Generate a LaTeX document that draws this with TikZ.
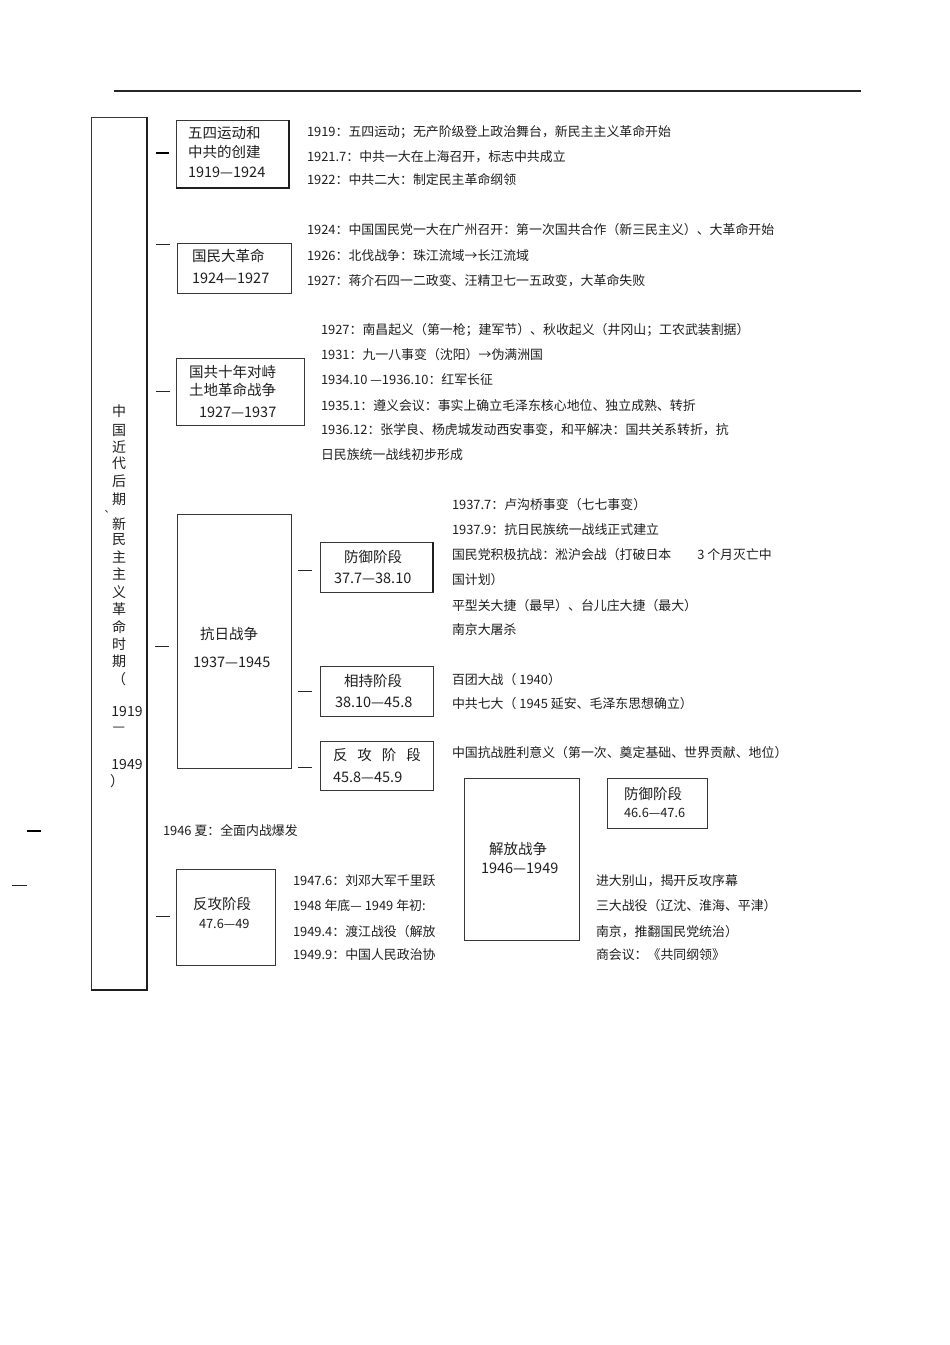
\documentclass[tikz,border=0pt]{standalone}
\usepackage{fontspec}
\setmainfont{Noto Sans CJK SC}
\newfontfamily\tcfont{Noto Sans CJK TC}
\begin{document}
\begin{tikzpicture}[x=1pt,y=-1pt,
  every node/.style={inner sep=0pt,outer sep=0pt,text=black!88},
  ln/.style={anchor=west,font=\fontsize{12.9}{14}\selectfont},
  bt/.style={anchor=west,font=\fontsize{14.5}{16}\selectfont},
  bts/.style={anchor=west,font=\fontsize{12.8}{14}\selectfont},
  vt/.style={font=\fontsize{14}{16}\selectfont},
  frame/.style={draw=black!78,line width=0.9pt,anchor=north west},
  shade/.style={draw=black!88,line width=1.8pt},
  tick/.style={draw=black!85,line width=0.9pt},
  tickb/.style={draw=black,line width=1.9pt}]
\useasboundingbox[fill=white] (0,0) rectangle (950,1345);

% top rule
\coordinate (r1) at (114,91);
\coordinate (r2) at (861,91);
\draw[line width=1.2pt,black!85] (r1) -- (r2);

% main vertical box
\node[frame,minimum width=56pt,minimum height=873pt] (main) at (91,117) {};
\draw[shade] (main.north east) -- (main.south east) -- (main.south west);
\foreach \t/\yy [count=\i] in {中/411,国/430,近/447,代/463,后/481,期/499,新/524,民/540,主/557,主/574,义/592,革/609,命/627,时/644,期/661}
  \node[vt] (v\i) at (119,\yy) {\t};
\node[font=\tcfont\fontsize{10}{10}\selectfont] (vd) at (106.5,513) {、};
\node[vt] (vp1) at (119,679) {（};
\node[vt] (vy1) at (127,711) {1919};
\node[vt] (vda) at (119,729) {—};
\node[vt] (vy2) at (127,764) {1949};
\node[vt] (vp2) at (117,781) {）};

% outer dashes
\draw[tickb] (27,831) -- (41,831);
\draw[tick] (12,885) -- (27,885);

% ticks before the main boxes
\draw[tickb] (156,153) -- (169,153);
\draw[tick] (156,244) -- (170,244);
\draw[tick] (156,391) -- (170,391);
\draw[tick] (155,646) -- (169,646);
\draw[tick] (156,916) -- (170,916);
% ticks before the sub boxes
\draw[tick] (298,570) -- (312,570);
\draw[tick] (298,691) -- (312,691);
\draw[tick] (298,767) -- (312,767);

% box 1
\node[frame,minimum width=113pt,minimum height=68pt] (b1) at (176,120) {};
\draw[shade] (b1.north east) -- (b1.south east) -- (b1.south west);
\node[bt] (b1a) at (188,133) {五四运动和};
\node[bt] (b1b) at (188,152) {中共的创建};
\node[bt] (b1c) at (188,172) {1919—1924};

% box 2
\node[frame,minimum width=114pt,minimum height=50pt] (b2) at (177,243) {};
\node[bt] (b2a) at (192,256) {国民大革命};
\node[bt] (b2b) at (192,278) {1924—1927};

% box 3
\node[frame,minimum width=128pt,minimum height=67pt] (b3) at (176,358) {};
\node[bt] (b3a) at (189,372) {国共十年对峙};
\node[bt] (b3b) at (189,390) {土地革命战争};
\node[bt] (b3c) at (199,412) {1927—1937};

% box 4 anti-Japanese war
\node[frame,minimum width=114pt,minimum height=254pt] (b4) at (177,514) {};
\node[bt] (b4a) at (200,634) {抗日战争};
\node[bt] (b4b) at (193,662) {1937—1945};

\node[frame,minimum width=113pt,minimum height=50pt] (s1) at (320,542) {};
\draw[draw=black!88,line width=1.4pt] (s1.north east) -- (s1.south east);
\node[bt,anchor=center] (s1a) at (373,557) {防御阶段};
\node[bt] (s1b) at (334,578) {37.7—38.10};

\node[frame,minimum width=113pt,minimum height=50pt] (s2) at (320,666) {};
\node[bt] (s2a) at (344,681) {相持阶段};
\node[bt] (s2b) at (335,702) {38.10—45.8};

\node[frame,minimum width=113pt,minimum height=49pt] (s3) at (320,741) {};
\node[bt] (s3a) at (333,755) {反\hspace{10pt}攻\hspace{10pt}阶\hspace{10pt}段};
\node[bt] (s3b) at (333,777) {45.8—45.9};

% liberation war
\node[frame,minimum width=115pt,minimum height=162pt] (b5) at (464,778) {};
\node[bt] (b5a) at (489,849) {解放战争};
\node[bt] (b5b) at (481,868) {1946—1949};

\node[frame,minimum width=100pt,minimum height=50pt] (s4) at (607,778) {};
\node[bt] (s4a) at (624,794) {防御阶段};
\node[bts] (s4b) at (624,813) {46.6—47.6};

\node[frame,minimum width=99pt,minimum height=96pt] (s5) at (176,869) {};
\node[bt] (s5a) at (193,904) {反攻阶段};
\node[bts] (s5b) at (199,924) {47.6—49};

% text lines
\node[ln] (t1) at (307,132) {1919：五四运动；无产阶级登上政治舞台，新民主主义革命开始};
\node[ln] (t2) at (307,157) {1921.7：中共一大在上海召开，标志中共成立};
\node[ln] (t3) at (307,180) {1922：中共二大：制定民主革命纲领};
\node[ln] (t4) at (307,230) {1924：中国国民党一大在广州召开：第一次国共合作（新三民主义）、大革命开始};
\node[ln] (t5) at (307,256) {1926：北伐战争：珠江流域→长江流域};
\node[ln] (t6) at (307,281) {1927：蒋介石四一二政变、汪精卫七一五政变，大革命失败};

\node[ln] (u1) at (321,330) {1927：南昌起义（第一枪；建军节）、秋收起义（井冈山；工农武装割据）};
\node[ln] (u2) at (321,355) {1931：九一八事变（沈阳）→伪满洲国};
\node[ln] (u3) at (321,380) {1934.10 —1936.10：红军长征};
\node[ln] (u4) at (321,406) {1935.1：遵义会议：事实上确立毛泽东核心地位、独立成熟、转折};
\node[ln] (u5) at (321,430) {1936.12：张学良、杨虎城发动西安事变，和平解决：国共关系转折，抗};
\node[ln] (u6) at (321,455) {日民族统一战线初步形成};

\node[ln] (w1) at (452,505) {1937.7：卢沟桥事变（七七事变）};
\node[ln] (w2) at (452,530) {1937.9：抗日民族统一战线正式建立};
\node[ln] (w3) at (452,555) {国民党积极抗战：淞沪会战（打破日本\hspace{26pt}3 个月灭亡中};
\node[ln] (w4) at (452,580) {国计划）};
\node[ln] (w5) at (452,606) {平型关大捷（最早）、台儿庄大捷（最大）};
\node[ln] (w6) at (452,630) {南京大屠杀};
\node[ln] (w7) at (452,680) {百团大战（ 1940）};
\node[ln] (w8) at (452,704) {中共七大（ 1945 延安、毛泽东思想确立）};
\node[ln] (w9) at (452,753) {中国抗战胜利意义（第一次、奠定基础、世界贡献、地位）};

\node[ln] (x0) at (163,831) {1946 夏：全面内战爆发};
\node[ln] (x1) at (293,881) {1947.6：刘邓大军千里跃};
\node[ln] (x2) at (293,906) {1948 年底— 1949 年初:};
\node[ln] (x3) at (293,932) {1949.4：渡江战役（解放};
\node[ln] (x4) at (293,955) {1949.9：中国人民政治协};
\node[ln] (y1) at (596,881) {进大别山，揭开反攻序幕};
\node[ln] (y2) at (596,906) {三大战役（辽沈、淮海、平津）};
\node[ln] (y3) at (596,932) {南京，推翻国民党统治）};
\node[ln] (y4) at (596,955) {商会议：《共同纲领》};
\end{tikzpicture}
\end{document}
